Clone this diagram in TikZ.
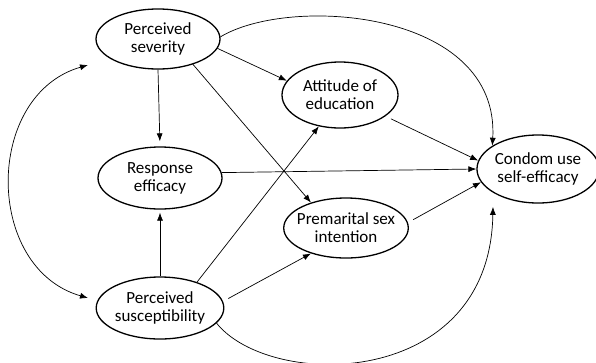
\documentclass[tikz,border=0pt]{standalone}
\usepackage{fontspec}
\setmainfont{Carlito}
\usetikzlibrary{shapes.geometric,arrows.meta}

\begin{document}
\begin{tikzpicture}[x=1pt,y=-1pt,
  construct/.style={draw,ellipse,line width=1.3pt,inner sep=0pt,align=center,
    font=\fontsize{17}{18}\selectfont},
  link/.style={-{Latex[length=8pt,width=6pt]},line width=0.7pt}]
\useasboundingbox (0,0) rectangle (596,362);

% constructs
\node[construct,minimum width=124pt,minimum height=60pt] (sev) at (158,39) {Perceived\\severity};
\node[construct,minimum width=124pt,minimum height=62pt] (resp) at (160,178) {Response\\efficacy};
\node[construct,minimum width=124pt,minimum height=62pt] (susc) at (160,308) {Perceived\\susceptibility};
\node[construct,minimum width=116pt,minimum height=66pt] (att) at (340,95) {Attitude of\\education};
\node[construct,minimum width=122pt,minimum height=60pt,inner xsep=-5pt] (prem) at (346,228) {Premarital sex\\intention};
\node[construct,minimum width=116pt,minimum height=68pt] (cond) at (538,169) {Condom use\\self-efficacy};

% straight paths
\foreach \a/\b in {sev.-9/att.165, sev.-36/prem.144, resp.5/cond.180, susc.35/att.236}{
  \draw[link] (\a) -- (\b);
}
\draw[link,shorten >=5pt] (sev.south) -- (resp.north);
\draw[link,shorten <=6pt] (att.-25) -- (cond.172);
\draw[link,shorten <=6pt] (prem.5) -- (cond.193);
\draw[link,shorten >=3pt] (susc.north) -- (resp.south);
\draw[link,shorten <=6pt] (susc.6) -- (prem.216);

% curved paths
\draw[link] (sev.2) .. controls (290,-5) and (500,10) .. (cond.153);
\draw[link,shorten >=14pt] (susc.-15) .. controls (270,390) and (490,390) .. (cond.208);

% correlation
\coordinate (sevin) at (88,65);
\coordinate (suscin) at (88,298);
\draw[link,{Latex[length=8pt,width=6pt]}-{Latex[length=8pt,width=6pt]}]
  (sevin) .. controls (-16,95) and (-16,268) .. (suscin);
\end{tikzpicture}
\end{document}
